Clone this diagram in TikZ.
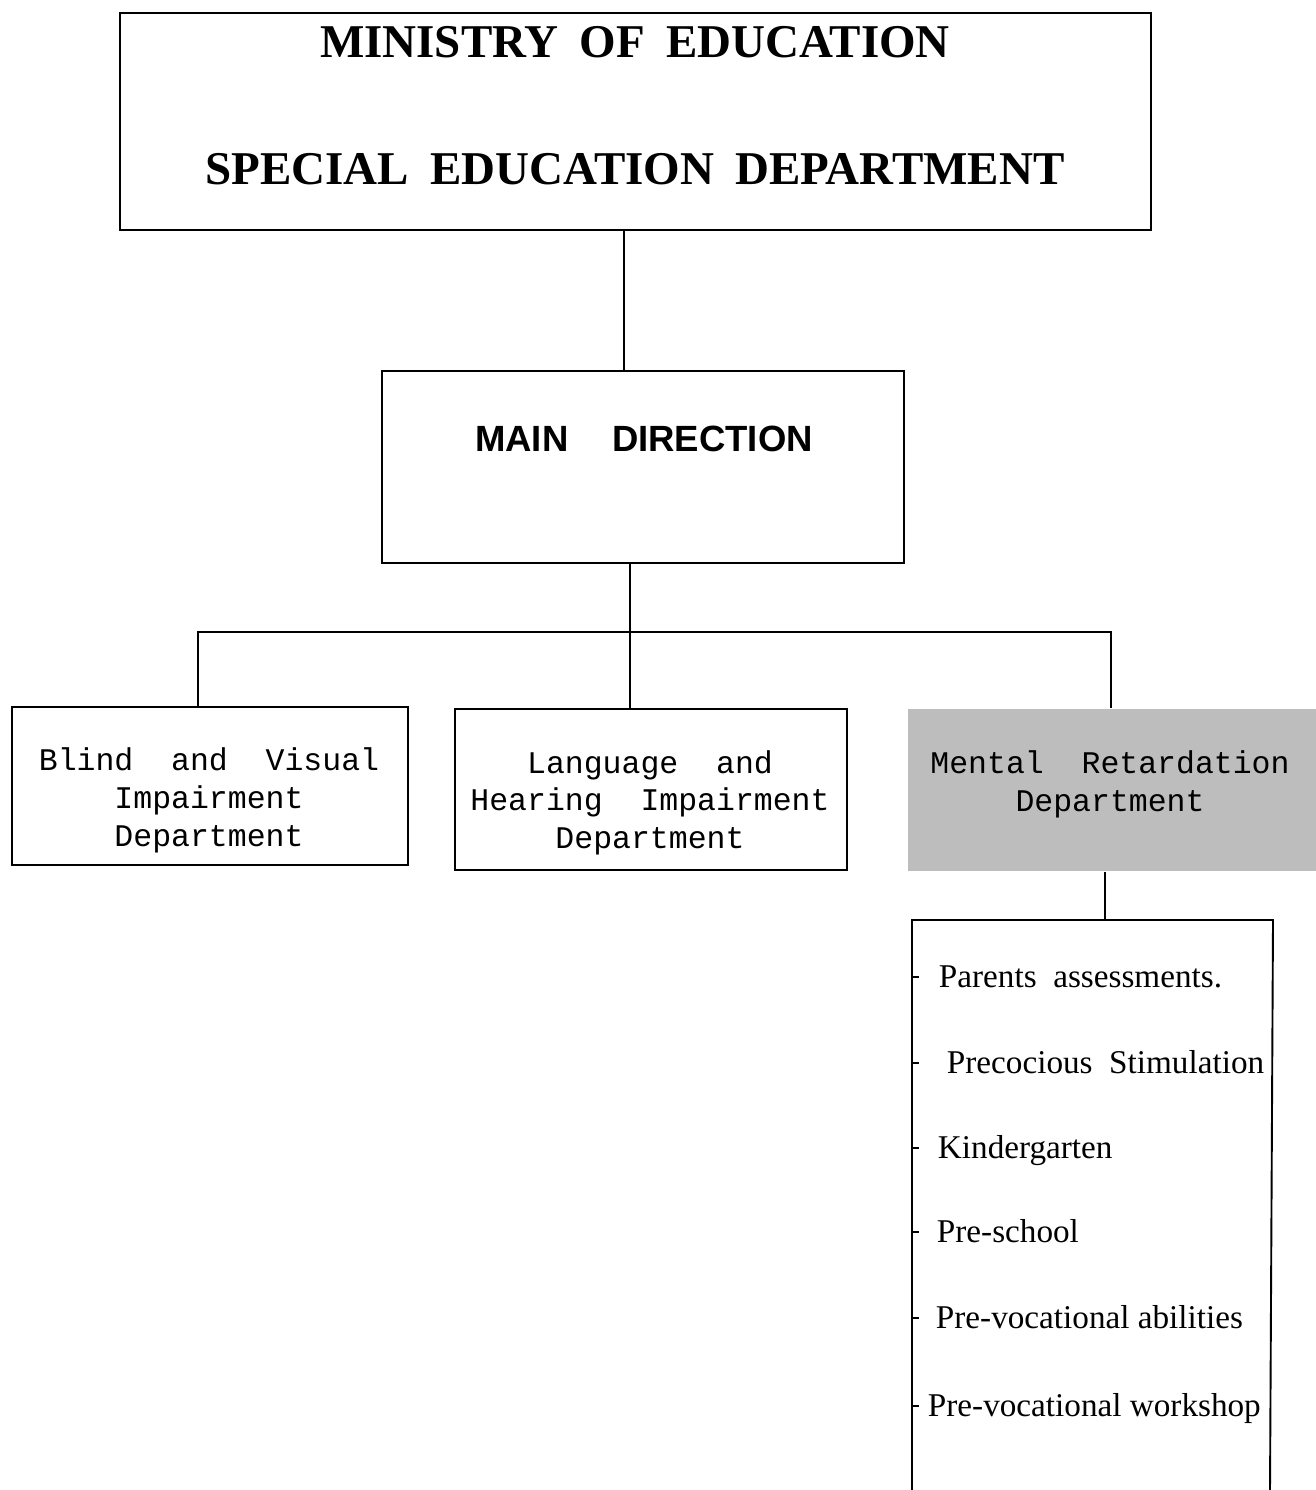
\documentclass[tikz,border=0pt]{standalone}
\usepackage{fontspec}
\setmainfont{Liberation Serif}
\newfontfamily\arialf{Liberation Sans}
\newfontfamily\courf{Liberation Mono}
\begin{document}
\begin{tikzpicture}[x=1pt,y=-1pt,line width=1.9pt,
  box/.style={draw,rectangle,inner sep=0pt,anchor=north west},
  titletxt/.style={anchor=base,inner sep=0pt,font=\fontsize{47}{50}\selectfont\bfseries},
  maintxt/.style={anchor=base,inner sep=0pt,font=\arialf\fontsize{36.5}{40}\selectfont\bfseries},
  monotxt/.style={anchor=base,inner sep=0pt,font=\courf\fontsize{31.5}{38}\selectfont},
  itemtxt/.style={anchor=base west,inner sep=0pt,font=\fontsize{33.2}{38}\selectfont},
  tick/.style={line width=1.2pt}]
\useasboundingbox (0,0) rectangle (1316,1490);

% boxes
\node[box,minimum width=1031pt,minimum height=217pt] (top) at (119,12) {};
\node[box,minimum width=522pt,minimum height=192pt] (main) at (381,370) {};
\node[box,minimum width=396pt,minimum height=158pt] (blind) at (11,706) {};
\node[box,minimum width=392pt,minimum height=161pt] (lang) at (454,708) {};
\node[box,draw=none,fill=black!26,minimum width=409pt,minimum height=162pt] (mental) at (907,708) {};

% texts
\node[titletxt] (t1) at (635,58) {MINISTRY\hspace{0.45em}OF\hspace{0.45em}EDUCATION};
\node[titletxt] (t2) at (635,185) {SPECIAL\hspace{0.45em}EDUCATION\hspace{0.45em}DEPARTMENT};
\node[maintxt] (m1) at (644,451) {MAIN\hspace{1.2em}DIRECTION};

\node[monotxt] (b1) at (209,770) {Blind~~and~~Visual};
\node[monotxt] (b2) at (209,808) {Impairment};
\node[monotxt] (b3) at (209,846) {Department};

\node[monotxt] (l1) at (650,773) {Language~~and};
\node[monotxt] (l2) at (650,810) {Hearing~~Impairment};
\node[monotxt] (l3) at (650,848) {Department};

\node[monotxt] (r1) at (1110,773) {Mental~~Retardation};
\node[monotxt] (r2) at (1110,811) {Department};

% list box (open at the bottom)
\coordinate (listtop) at (1105,920);
\draw (912,1490) -- (912,920) -- (1273,920) -- (1270,1490);

\node[itemtxt] (i1) at (938,987) {Parents~~assessments.};
\node[itemtxt] (i2) at (946,1073) {Precocious~~Stimulation};
\node[itemtxt] (i3) at (937,1158) {Kindergarten};
\node[itemtxt] (i4) at (936,1242) {Pre-school};
\node[itemtxt] (i5) at (935,1328) {Pre-vocational abilities};
\node[itemtxt] (i6) at (927,1416) {Pre-vocational workshop};
\foreach \yy in {977,1063,1148,1232,1318,1406}
  \draw[tick] (912,\yy) -- (919,\yy);

% connectors
\coordinate (c1) at (624,0);
\coordinate (bus) at (630,632);
\coordinate (busL) at (198,632);
\coordinate (busR) at (1111,632);
\draw (top.south -| c1) -- (main.north -| c1);
\draw (main.south -| bus) -- (lang.north -| bus);
\draw (blind.north -| busL) -- (busL) -- (busR) -- (mental.north -| busR);
\draw (mental.south -| listtop) -- (listtop);
\end{tikzpicture}
\end{document}
